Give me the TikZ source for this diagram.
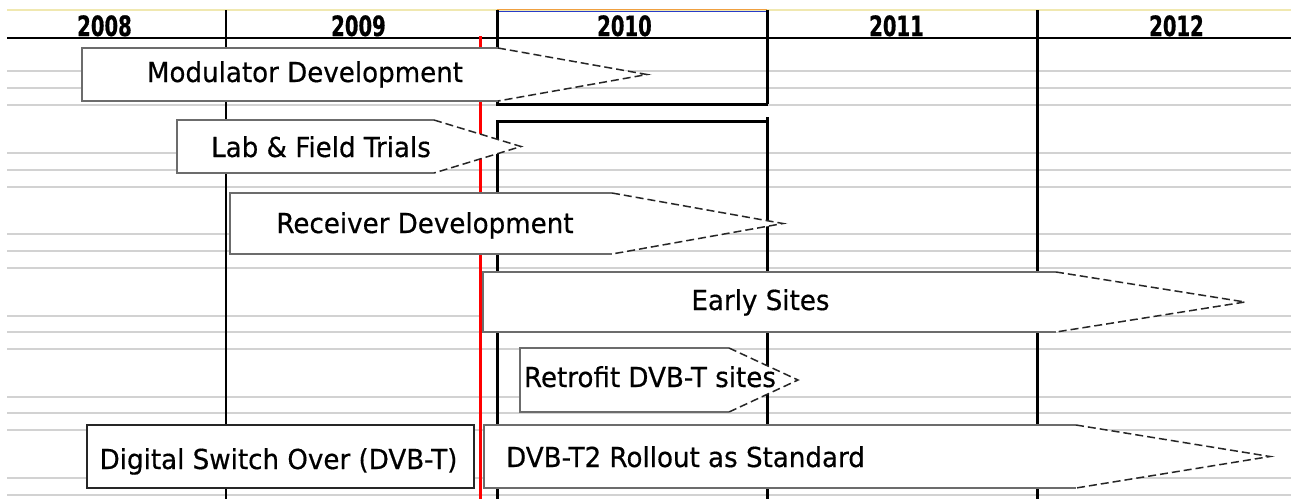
\documentclass[tikz,border=0pt]{standalone}
\usepackage{fontspec}
\setmainfont{DejaVu Sans}[FakeStretch=0.95,FakeBold=0.5]
\newfontfamily\hdrfont{DejaVu Sans}[FakeStretch=0.7,FakeBold=0.6]
\tikzset{
  gridline/.style={draw=gray!35, line width=1.5pt},
  yearline/.style={draw=black, line width=3pt},
  thinyear/.style={draw=black, line width=1.5pt},
  boxedge/.style={draw=gray!85!black, line width=1.6pt},
  tipedge/.style={draw=black!85, line width=1.5pt, dash pattern=on 8pt off 4pt},
  lbl/.style={inner sep=0pt, anchor=base, font=\fontsize{27.5}{30}\selectfont},
  yr/.style={inner sep=0pt, anchor=base, font=\hdrfont\bfseries\fontsize{28}{30}\selectfont},
}
\newcommand{\taskarrow}[5]{%
  \fill[white] (#1,#2) -- (#4,#2) -- (#5,{(#2+#3)/2}) -- (#4,#3) -- (#1,#3) -- cycle;
  \draw[boxedge] (#4,#2) -- (#1,#2) -- (#1,#3) -- (#4,#3);
  \draw[tipedge] (#4,#2) -- (#5,{(#2+#3)/2}) -- (#4,#3);}
\begin{document}
\begin{tikzpicture}[x=1pt,y=-1pt]
\useasboundingbox[fill=white] (0,0) rectangle (1291,499);
% top line
\draw[draw={rgb,255:red,240;green,232;blue,176}, line width=1.5pt] (7,10) -- (1291,10);
\draw[draw={rgb,255:red,240;green,160;blue,64}, line width=1pt] (497,9.5) -- (767,9.5);
\draw[draw={rgb,255:red,40;green,60;blue,200}, line width=1pt] (497,11) -- (767,11);
% gray rows
\foreach \y in {71,88,105,153,170,187,234,251,268,316,332,349,397,413,430,478,495}
  \draw[gridline] (7,\y) -- (1291,\y);
% year lines
\draw[thinyear] (226,10) -- (226,499);
\draw[yearline] (497,10) -- (497,104);
\draw[yearline] (497,120) -- (497,499);
\draw[yearline] (767,10) -- (767,104);
\draw[yearline] (767,117) -- (767,499);
\draw[yearline] (1037,10) -- (1037,499);
\draw[yearline] (496,104) -- (768,104);
\draw[yearline] (496,121) -- (766,121);
% header line
\draw[draw=black, line width=2pt] (7,38) -- (1291,38);
% today line
\draw[draw=red, line width=3pt] (480,36) -- (480,499);
% header years
\node[yr] (y2008) at (104.5,36) {2008};
\node[yr] (y2009) at (358.5,36) {2009};
\node[yr] (y2010) at (624.5,36) {2010};
\node[yr] (y2011) at (896.5,36) {2011};
\node[yr] (y2012) at (1176.5,36) {2012};
% tasks
\taskarrow{82}{48}{101}{498}{647}
\node[lbl] (mod) at (305,82) {Modulator Development};
\taskarrow{177}{120}{173}{434}{521}
\node[lbl] (lab) at (321,157) {Lab \& Field Trials};
\taskarrow{230}{193}{254}{612}{783}
\node[lbl] (rec) at (425,233) {Receiver Development};
\taskarrow{483}{272}{332}{1056}{1245}
\node[lbl] (early) at (760.5,310) {Early Sites};
\taskarrow{520}{348}{412}{729}{798}
\node[lbl] (retro) at (650,387) {Retrofit DVB-T sites};
\taskarrow{484}{425}{488}{1076}{1270}
\node[lbl] (t2) at (685.5,467) {DVB-T2 Rollout as Standard};
\fill[white] (87,425) rectangle (474,488);
\draw[draw=black!85, line width=1.6pt] (87,425) rectangle (474,488);
\node[lbl] (dso) at (278.5,469) {Digital Switch Over (DVB-T)};
\end{tikzpicture}
\end{document}
